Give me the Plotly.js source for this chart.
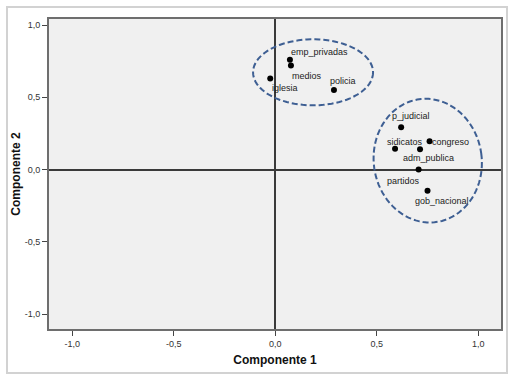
<!DOCTYPE html>
<html>
<head>
<meta charset="utf-8">
<script src="https://cdn.plot.ly/plotly-3.0.1.min.js"></script>
<style>
  html, body { margin: 0; padding: 0; background: #ffffff; }
  #wrap { position: relative; width: 513px; height: 382px; }
  #chart { position: absolute; left: 0; top: 0; width: 513px; height: 382px; }
  #frame { position: absolute; left: 6px; top: 6px; width: 498px; height: 364px;
           border: 2px solid #d2d2d2; pointer-events: none; z-index: 5; }
</style>
</head>
<body>
<div id="wrap">
  <div id="chart"></div>
  <div id="frame"></div>
</div>
<script>
// ---- data ----
const labels = ["emp_privadas", "medios", "iglesia", "policia", "p_judicial",
                "sidicatos", "congreso", "adm_publica", "partidos", "gob_nacional"];
const comp1 = [0.072, 0.077, -0.025, 0.289, 0.620, 0.590, 0.760, 0.713, 0.706, 0.750];
const comp2 = [0.760, 0.720, 0.630, 0.550, 0.293, 0.145, 0.196, 0.140, 0.000, -0.147];
const tickVals = [-1.0, -0.5, 0.0, 0.5, 1.0];
const tickText = ["-1,0", "-0,5", "0,0", "0,5", "1,0"];

// ---- label placement (pixel offsets of label centre from its point) ----
const labelDx = [30, 16.5, 15, 9, 9.5, 10, 20.5, 8.5, -15.5, 14];
const labelDy = [-8, 10, 9, -9, -11, -7, 1, 9, 11, 10];

// ---- layout geometry ----
const W = 513, H = 382;
const M = { l: 49, r: 12, t: 19, b: 53 };
const xRange = [-1.115, 1.112];
const yRange = [-1.103, 1.042];
const pxPerX = (W - M.l - M.r) / (xRange[1] - xRange[0]);
const pxPerY = (H - M.t - M.b) / (yRange[1] - yRange[0]);

// dashed group ellipses (decoration) defined in pixel-size terms around a data centre
function ellipsePath(cxData, cyData, aPx, bPx, thetaDeg) {
  const th = thetaDeg * Math.PI / 180;
  const pts = [];
  const n = 90;
  for (let i = 0; i <= n; i++) {
    const t = 2 * Math.PI * i / n;
    const xp = aPx * Math.cos(t) * Math.cos(th) - bPx * Math.sin(t) * Math.sin(th);
    const yp = aPx * Math.cos(t) * Math.sin(th) + bPx * Math.sin(t) * Math.cos(th);
    const xd = cxData + xp / pxPerX;
    const yd = cyData - yp / pxPerY;
    pts.push((i === 0 ? "M" : "L") + xd.toFixed(5) + "," + yd.toFixed(5));
  }
  return pts.join(" ") + " Z";
}

const ellipseLine = { color: "#3e5f93", width: 2, dash: "6px,3px" };

const shapes = [
  { type: "path", xref: "x", yref: "y", line: ellipseLine,
    path: ellipsePath(0.186, 0.673, 60, 33, 0) },
  { type: "path", xref: "x", yref: "y", line: ellipseLine,
    path: ellipsePath(0.751, 0.062, 54, 62, -8) }
];

const annotations = labels.map((lab, i) => ({
  x: comp1[i], y: comp2[i], xref: "x", yref: "y",
  text: lab, showarrow: false,
  xanchor: "center", yanchor: "middle",
  xshift: labelDx[i], yshift: -labelDy[i],
  font: { family: "Liberation Sans, Arial, sans-serif", size: 9, color: "#222222" }
}));

const trace = {
  type: "scatter", mode: "markers",
  x: comp1, y: comp2, text: labels,
  marker: { color: "#000000", size: 6 },
  hoverinfo: "text"
};

const axisCommon = {
  showgrid: false,
  zeroline: true, zerolinecolor: "#3a3a3a", zerolinewidth: 2,
  showline: true, linecolor: "#6e6e6e", linewidth: 2, mirror: true,
  ticks: "outside", ticklen: 5, tickwidth: 1, tickcolor: "#444444",
  tickmode: "array", tickvals: tickVals, ticktext: tickText,
  tickfont: { family: "Liberation Sans, Arial, sans-serif", size: 9, color: "#333333" },
  fixedrange: true
};

const layout = {
  width: W, height: H,
  margin: M,
  paper_bgcolor: "#ffffff",
  plot_bgcolor: "#f0f0f0",
  showlegend: false,
  xaxis: Object.assign({}, axisCommon, {
    range: xRange,
    title: { text: "<b>Componente 1</b>", standoff: 8,
             font: { family: "Liberation Sans, Arial, sans-serif", size: 12, color: "#111111" } }
  }),
  yaxis: Object.assign({}, axisCommon, {
    range: yRange,
    title: { text: "<b>Componente 2</b>", standoff: 1,
             font: { family: "Liberation Sans, Arial, sans-serif", size: 12, color: "#111111" } }
  }),
  shapes: shapes,
  annotations: annotations
};

Plotly.newPlot("chart", [trace], layout, { displayModeBar: false, staticPlot: true });
</script>
</body>
</html>
